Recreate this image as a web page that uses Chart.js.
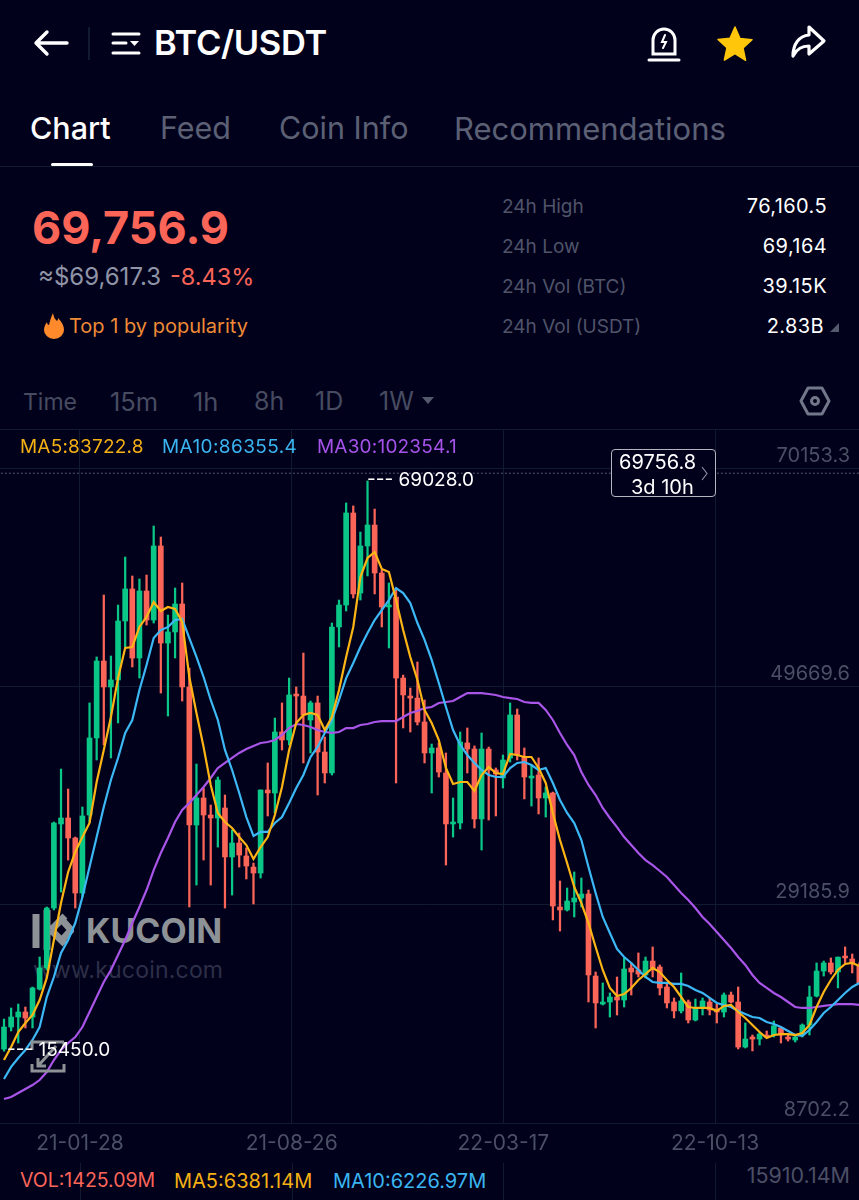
<!DOCTYPE html>
<html>
<head>
<meta charset="utf-8">
<title>BTC/USDT</title>
<script src="https://cdn.jsdelivr.net/npm/chart.js@4/dist/chart.umd.min.js"></script>
<style>
  html, body { margin: 0; padding: 0; background: #01011c; }
  body { position: relative; width: 859px; height: 1200px; overflow: hidden; font-family: Inter, sans-serif; color: #fff; }
  .t { position: absolute; white-space: nowrap; line-height: 1; }
  .r { text-align: right; }
  .line { position: absolute; background: #111a2e; }
  svg { position: absolute; }
  canvas { position: absolute; left: 0; top: 429px; }
</style>
</head>
<body>
<!-- header -->
<svg style="left:32px;top:28px" width="40" height="30" fill="none" stroke="#fff" stroke-width="3.4" stroke-linecap="round" stroke-linejoin="round"><path d="M35 15H4M15 4L4 15l11 11"/></svg>
<div class="line" style="left:88px;top:27px;width:2px;height:33px"></div>
<svg style="left:111px;top:30px" width="30" height="27" fill="none" stroke="#fff" stroke-width="3" stroke-linecap="round"><path d="M2 4h26M2 13h13M2 23h26"/><path d="M19 11h9l-4.500 5z" fill="#fff" stroke="none"/></svg>
<div class="t" style="left:154px;top:26px;font-size:34.500px;font-weight:600;letter-spacing:-.3px">BTC/USDT</div>
<svg style="left:646px;top:25px" width="36" height="38" fill="none" stroke="#fff" stroke-width="3" stroke-linecap="round"><path d="M7 29V15a11 11 0 0 1 22 0v14z"/><path d="M3 35h30"/><path d="M19 10l-3 7h4l-3 6" stroke-width="2"/></svg>
<svg style="left:716px;top:25px" width="38" height="38"><path d="M19 2l5 11.500 12 1.200-9 8.300 2.600 12.300L19 28.500 8.400 35l2.600-12.300-9-8.300 12-1.200z" fill="#ffc60a" stroke="#ffc60a" stroke-width="1.500" stroke-linejoin="round"/></svg>
<svg style="left:789px;top:24px" width="38" height="38" fill="none" stroke="#fff" stroke-width="3.200" stroke-linejoin="round" stroke-linecap="round"><path d="M20 3l15 14-15 13v-8c-7 0-12 2-16 10 0-12 6-20 16-21z"/></svg>

<div class="t" style="left:30px;top:113px;font-size:30.500px;font-weight:500">Chart</div>
<div class="t" style="left:160px;top:113px;font-size:30.500px;color:#5c6074">Feed</div>
<div class="t" style="left:279px;top:113px;font-size:30.500px;color:#5c6074">Coin Info</div>
<div class="t" style="left:454px;top:113px;font-size:31px;color:#5c6074">Recommendations</div>
<div class="line" style="left:0;top:166px;width:859px;height:1px"></div>
<div style="position:absolute;left:51px;top:163px;width:42px;height:3px;border-radius:2px;background:#fff"></div>

<div class="t" style="left:32px;top:205px;font-size:45px;font-weight:700;color:#fb6558">69,756.9</div>
<div class="t" style="left:38px;top:265px;font-size:24px;color:#8f94a6">≈$69,617.3</div>
<div class="t" style="left:170px;top:265px;font-size:23.500px;color:#fb6558">-8.43%</div>
<svg style="left:43px;top:312px" width="22" height="27"><path d="M10 1c1 5 2 6 4 8 1-1 1-2 1-3 4 4 6 8 6 12a10 9 0 0 1-20 0c0-3 1-5 3-8 0 2 1 3 2 3 1-4 2-8 4-12z" fill="#ff8a2b"/></svg>
<div class="t" style="left:69px;top:316px;font-size:20px;color:#ef8a35">Top 1 by popularity</div>

<div class="t" style="left:502px;top:197px;font-size:19px;color:#505469">24h High</div>
<div class="t" style="left:502px;top:237px;font-size:19px;color:#505469">24h Low</div>
<div class="t" style="left:502px;top:277px;font-size:19px;color:#505469">24h Vol (BTC)</div>
<div class="t" style="left:502px;top:317px;font-size:19px;color:#505469">24h Vol (USDT)</div>
<div class="t r" style="right:32px;top:196px;font-size:20px;letter-spacing:.4px">76,160.5</div>
<div class="t r" style="right:32px;top:236px;font-size:20px;letter-spacing:.4px">69,164</div>
<div class="t r" style="right:32px;top:276px;font-size:20px;letter-spacing:.4px">39.15K</div>
<div class="t r" style="right:35px;top:316px;font-size:20px;letter-spacing:.4px">2.83B</div>
<svg style="left:829px;top:321px" width="12" height="12"><path d="M1 11L10 2v9z" fill="#55596c"/></svg>

<div class="t" style="left:23px;top:391px;font-size:23px;color:#474b60">Time</div>
<div class="t" style="left:110px;top:389px;font-size:25.500px;color:#474b60">15m</div>
<div class="t" style="left:193px;top:389px;font-size:25.500px;color:#474b60">1h</div>
<div class="t" style="left:254px;top:389px;font-size:25px;color:#474b60">8h</div>
<div class="t" style="left:315px;top:389px;font-size:25px;color:#474b60">1D</div>
<div class="t" style="left:379px;top:389px;font-size:25px;color:#474b60">1W</div>
<svg style="left:421px;top:396px" width="14" height="9"><path d="M1 1h12L7 8z" fill="#55596c"/></svg>
<svg style="left:799px;top:386px" width="32" height="30" fill="none" stroke="#73778a" stroke-width="3" stroke-linejoin="round"><path d="M9 2h14l7 13-7 13H9L2 15z"/><circle cx="16" cy="15" r="3.500"/></svg>
<div class="line" style="left:0;top:429px;width:859px;height:1px"></div>

<!-- watermark sits under the transparent canvas -->
<svg style="left:32px;top:908px" width="42" height="45" fill="none" stroke="#8d9296" stroke-width="7"><path d="M4 6v34M15 2v40M19 22L33 8M19 22l14 14M31 13l8 9-8 9"/></svg>
<div class="t" style="left:86px;top:914px;font-size:34px;font-weight:700;color:#8d9296">KUCOIN</div>
<div class="t" style="left:33px;top:959px;font-size:23px;color:#2d2f48;letter-spacing:.2px">www.kucoin.com</div>

<canvas id="kline" width="859" height="731"></canvas>

<!-- overlays -->
<div class="t" style="left:20px;top:437px;font-size:19px;letter-spacing:.2px;color:#f5b014">MA5:83722.8</div>
<div class="t" style="left:162px;top:437px;font-size:19px;letter-spacing:.4px;color:#3ab5f0">MA10:86355.4</div>
<div class="t" style="left:317px;top:437px;font-size:19px;letter-spacing:.2px;color:#a653ea">MA30:102354.1</div>
<div class="t" style="left:367px;top:470px;font-size:19px">--- 69028.0</div>
<svg style="left:30px;top:1040px" width="36" height="33" fill="none" stroke="#8d9296" stroke-width="3"><path d="M2 10V2h32M34 2v4M2 24v7h32v-7M26 6L8 26M8 18v8h8"/></svg>
<div class="t" style="left:7px;top:1040px;font-size:19px">--- 15450.0</div>
<div style="position:absolute;left:611px;top:449px;width:103px;height:46px;border:1px solid #b4b6bf;border-radius:4px;background:#01011c"></div>
<div class="t" style="left:619px;top:452px;font-size:20px">69756.8</div>
<div class="t" style="left:631px;top:477px;font-size:20px">3d 10h</div>
<svg style="left:701px;top:466px" width="8" height="15" fill="none" stroke="#8b8e9c" stroke-width="1.200"><path d="M1 1l5 6.500-5 6.500"/></svg>

<!-- volume pane, cut off by the bottom of the screenshot -->
<div class="line" style="left:80px;top:1163px;width:1px;height:37px"></div>
<div class="line" style="left:292px;top:1163px;width:1px;height:37px"></div>
<div class="line" style="left:503px;top:1163px;width:1px;height:37px"></div>
<div class="line" style="left:715px;top:1163px;width:1px;height:37px"></div>
<div class="t" style="left:20px;top:1171px;font-size:19.500px;color:#fb6558">VOL:1425.09M</div>
<div class="t" style="left:174px;top:1171px;font-size:20px;color:#f5b014">MA5:6381.14M</div>
<div class="t" style="left:333px;top:1171px;font-size:20px;color:#3ab5f0">MA10:6226.97M</div>
<div class="t r" style="right:9px;top:1165px;font-size:21.500px;color:#4b4f64">15910.14M</div>

<script>
// weekly candles
const weeks = [
  '20-11-12','20-11-19','20-11-26','20-12-03','20-12-10','20-12-17','20-12-24','20-12-31','21-01-07','21-01-14',
  '21-01-21','21-01-28','21-02-04','21-02-11','21-02-18','21-02-25','21-03-04','21-03-11','21-03-18','21-03-25',
  '21-04-01','21-04-08','21-04-15','21-04-22','21-04-29','21-05-06','21-05-13','21-05-20','21-05-27','21-06-03',
  '21-06-10','21-06-17','21-06-24','21-07-01','21-07-08','21-07-15','21-07-22','21-07-29','21-08-05','21-08-12',
  '21-08-19','21-08-26','21-09-02','21-09-09','21-09-16','21-09-23','21-09-30','21-10-07','21-10-14','21-10-21',
  '21-10-28','21-11-04','21-11-11','21-11-18','21-11-25','21-12-02','21-12-09','21-12-16','21-12-23','21-12-30',
  '22-01-06','22-01-13','22-01-20','22-01-27','22-02-03','22-02-10','22-02-17','22-02-24','22-03-03','22-03-10',
  '22-03-17','22-03-24','22-03-31','22-04-07','22-04-14','22-04-21','22-04-28','22-05-05','22-05-12','22-05-19',
  '22-05-26','22-06-02','22-06-09','22-06-16','22-06-23','22-06-30','22-07-07','22-07-14','22-07-21','22-07-28',
  '22-08-04','22-08-11','22-08-18','22-08-25','22-09-01','22-09-08','22-09-15','22-09-22','22-09-29','22-10-06',
  '22-10-13','22-10-20','22-10-27','22-11-03','22-11-10','22-11-17','22-11-24','22-12-01','22-12-08','22-12-15',
  '22-12-22','22-12-29','23-01-05','23-01-12','23-01-19','23-01-26','23-02-02','23-02-09','23-02-16','23-02-23','23-03-02'
];
const opens = [
  15650,17720,18660,19130,18660,21290,23270,28900,36800,37360,
  35480,30310,37640,44880,52110,49670,50330,55870,58880,52390,
  58690,55960,62920,53800,54840,57470,49670,36700,39240,37640,
  37360,38300,33700,35010,33790,32750,32190,39990,39710,45440,
  44690,49010,48820,46570,48170,43560,41590,55310,57370,66020,
  58500,62920,64890,60380,57190,58120,50510,48820,48630,46380,
  43470,43940,41590,36800,36890,44410,43840,37270,43840,41870,
  41120,43000,47040,43090,41120,41400,39240,39710,29000,28720,
  29470,29840,30220,22510,19880,20070,20540,20260,23270,23080,
  22610,23920,23360,21480,20070,19230,20070,18380,19510,20070,
  19410,19130,20730,20070,15840,16780,16590,16970,16970,17630,
  16780,16500,16970,17910,20630,22980,23740,22890,24390,24110,23550
];
const closes = [
  17720,18660,19130,18570,21390,23270,28900,36890,37360,35480,
  30310,37550,44880,52110,49670,50330,55870,58880,52390,58690,
  55960,62920,53800,54840,57470,49670,36700,39240,37640,37360,
  40930,33700,35010,33880,32850,32190,39990,39710,45440,44690,
  48920,48820,47040,48170,43560,41590,55310,57370,66020,58410,
  62920,64890,60380,57190,57370,50510,48920,48630,46380,43470,
  43940,41680,36800,36980,44500,43840,37270,43840,41870,41490,
  42810,47040,43280,41210,41300,39240,39710,29090,28720,29560,
  29840,30220,22610,19980,20070,20540,20260,23170,22890,22700,
  23920,23270,21390,19980,19230,20170,18380,19510,20170,19320,
  19130,20730,20070,15840,16590,16590,17060,16780,17820,16970,
  16590,16780,17910,20540,22980,23740,22890,24290,24210,23740,21860
];
const highs = [
  18470,19510,19880,19600,21480,24300,29000,36980,41960,40080,
  35570,38390,48170,52490,58310,52580,57370,61880,60100,59820,
  60190,64800,63760,56430,58970,59440,51450,42430,40180,38580,
  41210,39520,36230,35950,34540,33130,40000,42530,46750,48170,
  50510,49670,52860,48350,48820,44970,55680,57840,66960,66680,
  64230,69028,66390,60660,59440,58780,50790,49570,52020,48450,
  44310,44410,43470,39240,45440,45820,44130,45350,44030,42060,
  43280,48170,47600,43940,42340,43000,40270,39800,31440,30780,
  32290,31720,30590,22890,21860,20920,22420,24210,23740,24680,
  24300,25240,23550,21860,20450,22800,20260,20350,20450,20450,
  19880,20920,21010,21480,18100,16970,17250,17350,18290,17720,
  16970,17060,18010,21570,23740,23920,24210,24300,25240,24580,23740
];
const lows = [
  15450,17350,16220,17630,17630,21200,23080,28720,30400,33410,
  28900,29940,36980,42810,44220,43000,46290,53430,51550,50510,
  55490,55680,49100,46940,52390,48350,29000,31060,33410,31060,
  34630,28900,30120,32750,31630,29280,31720,37550,37830,43750,
  44220,46290,42530,43470,39520,40650,41400,53430,56810,58030,
  57840,60100,58410,55310,53330,40650,45820,45440,46100,42530,
  39710,41210,32940,35570,36330,41590,36420,34350,37170,37550,
  40180,42620,42810,39150,38480,37740,37450,27780,26740,28620,
  28060,29000,20070,17630,19790,18660,18850,19600,20730,22420,
  22330,22420,20730,19510,18570,19040,18100,18290,18850,18850,
  18100,18660,19980,15660,15750,15470,16030,16690,16780,16220,
  16400,16310,16780,16970,20540,22510,22700,21390,23740,22800,21850
];
const ma5 = [
  14620,15840,17250,18100,18850,20260,22330,25900,29370,32290,
  34170,35570,36890,40740,43750,46850,50510,53330,53430,55310,
  56250,57650,56810,57190,57000,55780,50610,47230,44030,40460,
  37830,36980,36420,35570,34820,33510,34630,35570,37640,40270,
  43750,46290,47040,47230,47040,45630,46850,49390,52490,55310,
  60000,61790,62350,60760,60470,57840,55020,52490,50330,47510,
  46290,44690,42060,40560,40740,40740,39900,41400,42150,41590,
  41490,43370,43280,43090,43090,42060,40650,37830,35290,33130,
  30880,29370,27490,25240,23080,21390,20630,20820,21390,22140,
  22700,23270,22890,22140,21480,20540,19600,19510,19510,19510,
  19230,19700,19790,19130,18570,17910,17250,16690,16970,17060,
  17060,16970,17160,17910,19600,21010,22140,23080,23640,23740,23450
];
const ma10 = [
  12840,13970,14810,15560,16500,17720,20540,22420,24680,25900,
  27490,29940,32750,35570,38390,40930,43000,45350,46570,49390,
  51740,54270,55020,55310,55960,56060,54270,52490,50610,48450,
  46570,43750,41870,39710,37450,35670,36050,36050,36890,37450,
  38770,40180,41400,43090,44030,45350,46570,48450,50510,51920,
  53430,54740,55960,56900,57840,58970,58500,57560,55680,54090,
  52210,50040,47790,45630,44220,43280,42530,41870,41400,41210,
  41210,42060,42530,42620,42340,41870,42060,40650,39050,37830,
  36890,35290,32750,30310,28060,26550,25050,24300,23740,23080,
  22420,21950,21860,21860,21770,21770,21580,21200,20920,20450,
  19980,19790,19600,19230,18940,18660,18570,18190,18010,17720,
  17350,16970,16880,17440,18190,19040,19600,20260,20920,21480,21860
];
const ma30 = [
  10960,11150,11520,11900,12270,12740,13490,14620,15560,16220,
  16780,17720,19130,20540,21950,23080,24490,25900,27490,29000,
  30590,32470,34070,35480,36980,38110,38770,39520,40270,41120,
  42060,42530,43000,43470,43840,44130,44410,44500,44690,45160,
  45810,46190,46100,45910,45630,45440,45350,45440,45810,45810,
  46100,46190,46380,46470,46470,46470,46850,47230,47410,47690,
  47790,48170,48260,48350,48730,49100,49100,49100,49010,48920,
  48730,48630,48540,48260,48170,48170,47510,46570,45350,44220,
  43280,41680,40460,39520,38300,37360,36510,35570,34820,34070,
  33410,32940,32380,31820,31060,30310,29660,28900,28060,27400,
  26650,25900,25140,24300,23550,22610,21860,21390,20920,20540,
  20070,19600,19510,19510,19600,19700,19790,19880,19880,19880,19790
];
const lastPrice = 69756.8;
const priceTicks = [8702.2, 29185.9, 49669.6, 70153.3];
const dateLabels = ['21-01-28', '21-08-26', '22-03-17', '22-10-13'];
const dateSlots = [10.66, 40.36, 70.05, 99.75]; // the app's grid is not aligned to candles

const UP = '#0ac787', DOWN = '#fb6558', GRID = '#111a2e';
const candleColors = opens.map((o, i) => closes[i] >= o ? UP : DOWN);

new Chart(document.getElementById('kline'), {
  type: 'bar',
  data: {
    datasets: [
      { type: 'line', data: ma5.map((v, i) => ({ x: i, y: v })), borderColor: '#fdb515', borderWidth: 2.2, pointRadius: 0, order: 0 },
      { type: 'line', data: ma10.map((v, i) => ({ x: i, y: v })), borderColor: '#3cb8f5', borderWidth: 2.2, pointRadius: 0, order: 1 },
      { type: 'line', data: ma30.map((v, i) => ({ x: i, y: v })), borderColor: '#a855e8', borderWidth: 2.2, pointRadius: 0, order: 2 },
      { type: 'line', data: [{ x: -1, y: lastPrice }, { x: 121, y: lastPrice }], borderColor: '#565a70', borderWidth: 1, borderDash: [2, 2], pointRadius: 0, order: 5 },
      { data: weeks.map((w, i) => ({ x: i, y: [opens[i], closes[i]] })), backgroundColor: candleColors, barThickness: 5, grouped: false, order: 3 },
      { data: weeks.map((w, i) => ({ x: i, y: [lows[i], highs[i]] })), backgroundColor: candleColors, barThickness: 1.6, grouped: false, order: 4 }
    ]
  },
  options: {
    responsive: false,
    animation: false,
    devicePixelRatio: 1,
    layout: { padding: 0 },
    plugins: { legend: { display: false }, tooltip: { enabled: false } },
    scales: {
      x: {
        type: 'linear',
        offset: false,
        min: -0.561,
        max: 119.95,
        afterBuildTicks: s => { s.ticks = dateSlots.map(v => ({ value: v })); },
        afterFit: s => { s.height = 37; s.paddingLeft = 0; s.paddingRight = 0; },
        grid: { color: GRID, offset: false, drawTicks: false },
        border: { display: false },
        ticks: {
          autoSkip: false,
          maxRotation: 0,
          padding: 8,
          color: '#4b4f64',
          font: { family: 'Inter', size: 21 },
          callback: (v, i) => dateLabels[i]
        }
      },
      y: {
        position: 'right',
        min: 8702.2,
        max: 73910,
        afterBuildTicks: s => { s.ticks = priceTicks.map(v => ({ value: v })); },
        // labels sit inside the plot, so the axis must take no room
        afterFit: s => { s.width = 0; s.paddingTop = 0; s.paddingBottom = 0; },
        grid: { color: GRID, drawTicks: false },
        border: { display: false },
        ticks: {
          mirror: true,
          padding: -9,
          labelOffset: -13,
          color: '#4b4f64',
          font: { family: 'Inter', size: 20 },
          callback: v => v.toFixed(1)
        }
      }
    }
  }
});
</script>
</body>
</html>
